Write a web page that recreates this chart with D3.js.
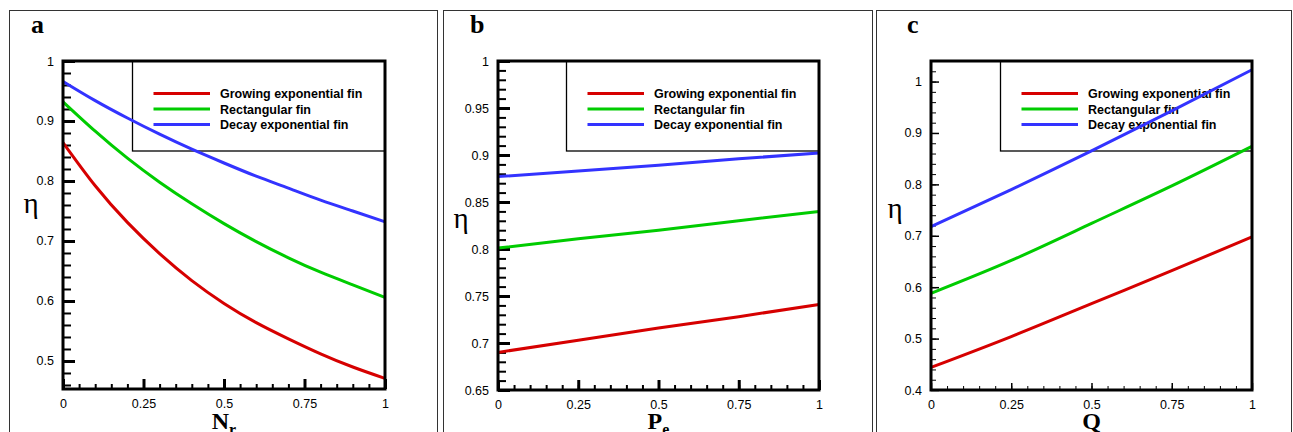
<!DOCTYPE html>
<html>
<head>
<meta charset="utf-8">
<script src="https://cdn.jsdelivr.net/npm/d3@7"></script>
<style>
  body { margin: 0; background: #fff; }
  svg { display: block; }
</style>
</head>
<body>
<svg id="chart" width="1293" height="432"></svg>
<script>
// series names, same for all three panels
const seriesNames = ["Growing exponential fin", "Rectangular fin", "Decay exponential fin"];

// panel a : eta vs N_r
const nrX = [0, 0.1, 0.2, 0.3, 0.4, 0.5, 0.6, 0.7, 0.8, 0.9, 1];
const nrGrowing = [0.864, 0.792, 0.731, 0.679, 0.634, 0.596, 0.564, 0.537, 0.512, 0.490, 0.471];
const nrRect = [0.932, 0.883, 0.838, 0.798, 0.762, 0.729, 0.699, 0.672, 0.648, 0.627, 0.606];
const nrDecay = [0.966, 0.934, 0.905, 0.878, 0.853, 0.830, 0.808, 0.788, 0.768, 0.750, 0.732];

// panel b : eta vs P_e
const peX = [0, 0.25, 0.5, 0.75, 1];
const peGrowing = [0.690, 0.703, 0.716, 0.728, 0.741];
const peRect = [0.801, 0.811, 0.820, 0.830, 0.840];
const peDecay = [0.877, 0.883, 0.889, 0.896, 0.902];

// panel c : eta vs Q
const qX = [0, 0.25, 0.5, 0.75, 1];
const qGrowing = [0.444, 0.504, 0.568, 0.632, 0.698];
const qRect = [0.588, 0.652, 0.724, 0.797, 0.874];
const qDecay = [0.718, 0.790, 0.865, 0.943, 1.023];

// tick labels
const xTickValues = [0, 0.25, 0.5, 0.75, 1];
const aYTicks = [0.5, 0.6, 0.7, 0.8, 0.9, 1];
const bYTicks = [0.65, 0.7, 0.75, 0.8, 0.85, 0.9, 0.95, 1];
const cYTicks = [0.4, 0.5, 0.6, 0.7, 0.8, 0.9, 1];

const colors = ["#d60000", "#00cc00", "#3333ff"];

const panels = [
  { letter: "a", title: "N", sub: "r", xs: nrX, ys: [nrGrowing, nrRect, nrDecay], yDomain: [0.4533, 1],
    yTicks: aYTicks, yMinor: 0.02, frame: [9, 437], left: 63, right: 385, top: 61, bottom: 389,
    legendLeft: 132, eta: [31, 213], letterX: 31, curve: d3.curveNatural, thin: false },
  { letter: "b", title: "P", sub: "e", xs: peX, ys: [peGrowing, peRect, peDecay], yDomain: [0.65, 1],
    yTicks: bYTicks, yMinor: 0.01, frame: [443, 872], left: 498, right: 819, top: 61, bottom: 390,
    legendLeft: 566, eta: [461, 228], letterX: 470, curve: d3.curveLinear, thin: false },
  { letter: "c", title: "Q", sub: "", xs: qX, ys: [qGrowing, qRect, qDecay], yDomain: [0.4, 1.04],
    yTicks: cYTicks, yMinor: 0.02, frame: [876, 1291], left: 931, right: 1252, top: 61, bottom: 390,
    legendLeft: 1000, eta: [895, 218], letterX: 907, curve: d3.curveNatural, thin: true }
];

const svg = d3.select("#chart");
const fmt = d => String(+(+d).toFixed(2));

panels.forEach(p => {
  // outer frame of the panel
  svg.append("rect")
    .attr("x", p.frame[0] + 0.5).attr("y", 10.5)
    .attr("width", p.frame[1] - p.frame[0]).attr("height", 440)
    .attr("fill", "none").attr("stroke", "#333").attr("stroke-width", 1);

  const x = d3.scaleLinear().domain([0, 1]).range([p.left, p.right]);
  const y = d3.scaleLinear().domain(p.yDomain).range([p.bottom, p.top]);

  const majW = p.thin ? 1.5 : 3, minW = p.thin ? 1 : 2;
  const yMaj = p.thin ? 8 : 12, yMin = p.thin ? 5 : 8;
  const xMaj = p.thin ? 7 : 10, xMin = p.thin ? 4 : 5;

  // minor ticks
  const yMinorVals = d3.range(Math.ceil(p.yDomain[0] / p.yMinor - 1e-6), Math.floor(p.yDomain[1] / p.yMinor + 1e-6) + 1)
    .map(k => k * p.yMinor);
  svg.append("g").attr("transform", `translate(${p.left},0)`)
    .call(d3.axisLeft(y).tickValues(yMinorVals).tickSize(-yMin).tickFormat(""))
    .call(g => g.select(".domain").remove())
    .selectAll("line").attr("stroke", "#000").attr("stroke-width", minW);
  svg.append("g").attr("transform", `translate(0,${p.bottom})`)
    .call(d3.axisBottom(x).tickValues(d3.range(0, 21).map(k => k * 0.05)).tickSize(-xMin).tickFormat(""))
    .call(g => g.select(".domain").remove())
    .selectAll("line").attr("stroke", "#000").attr("stroke-width", minW);

  // major ticks with labels
  const ya = svg.append("g").attr("transform", `translate(${p.left},0)`)
    .call(d3.axisLeft(y).tickValues(p.yTicks).tickSize(-yMaj).tickPadding(9).tickFormat(fmt));
  ya.select(".domain").remove();
  ya.selectAll("line").attr("stroke", "#000").attr("stroke-width", majW);
  ya.attr("font-family", "'Liberation Sans', Arial, sans-serif").attr("font-size", 12.5);
  ya.selectAll("text").attr("fill", "#000");

  const xa = svg.append("g").attr("transform", `translate(0,${p.bottom})`)
    .call(d3.axisBottom(x).tickValues(xTickValues).tickSize(-xMaj).tickPadding(10).tickFormat(fmt));
  xa.select(".domain").remove();
  xa.selectAll("line").attr("stroke", "#000").attr("stroke-width", majW);
  xa.attr("font-family", "'Liberation Sans', Arial, sans-serif").attr("font-size", 12.5);
  xa.selectAll("text").attr("fill", "#000");

  // legend box
  svg.append("rect")
    .attr("x", p.legendLeft + 0.5).attr("y", p.top)
    .attr("width", p.right - p.legendLeft - 0.5).attr("height", 151 - p.top)
    .attr("fill", "none").attr("stroke", "#000").attr("stroke-width", 1.3);

  const leg = svg.append("g").selectAll("g").data(seriesNames).enter().append("g")
    .attr("transform", (d, i) => `translate(${p.legendLeft},${p.top + 32.5 + i * 15.5})`);
  leg.append("line").attr("x1", 21.5).attr("x2", 78).attr("y1", 0).attr("y2", 0)
    .attr("stroke", (d, i) => colors[i]).attr("stroke-width", 3);
  leg.append("text").attr("x", 88).attr("y", 4.5).text(d => d)
    .attr("font-family", "'Liberation Sans', Arial, sans-serif").attr("font-weight", "bold")
    .attr("font-size", 12.5).attr("fill", "#000");

  // curves
  const line = d3.line().x(d => x(d[0])).y(d => y(d[1])).curve(p.curve);
  svg.append("g").selectAll("path").data(p.ys).enter().append("path")
    .attr("d", ys => line(p.xs.map((v, i) => [v, ys[i]])))
    .attr("fill", "none").attr("stroke", (d, i) => colors[i]).attr("stroke-width", 3);

  // plot frame
  svg.append("rect")
    .attr("x", p.left).attr("y", p.top)
    .attr("width", p.right - p.left).attr("height", p.bottom - p.top)
    .attr("fill", "none").attr("stroke", "#000").attr("stroke-width", 3);

  // panel letter
  svg.append("text").attr("x", p.letterX).attr("y", 33).text(p.letter)
    .attr("font-family", "'Liberation Serif', 'Times New Roman', serif")
    .attr("font-weight", "bold").attr("font-size", 26).attr("fill", "#000");

  // y title
  svg.append("text").attr("x", p.eta[0]).attr("y", p.eta[1]).attr("text-anchor", "middle").text("η")
    .attr("font-family", "'Liberation Serif', 'Times New Roman', serif")
    .attr("font-size", 29).attr("fill", "#000");

  // x title
  const t = svg.append("text").attr("x", (p.left + p.right) / 2).attr("y", 429)
    .attr("text-anchor", "middle")
    .attr("font-family", "'Liberation Serif', 'Times New Roman', serif")
    .attr("font-weight", "bold").attr("font-size", 24).attr("fill", "#000");
  t.append("tspan").text(p.title);
  if (p.sub) t.append("tspan").attr("font-size", 16).attr("dy", 6).text(p.sub);
});
</script>
</body>
</html>
